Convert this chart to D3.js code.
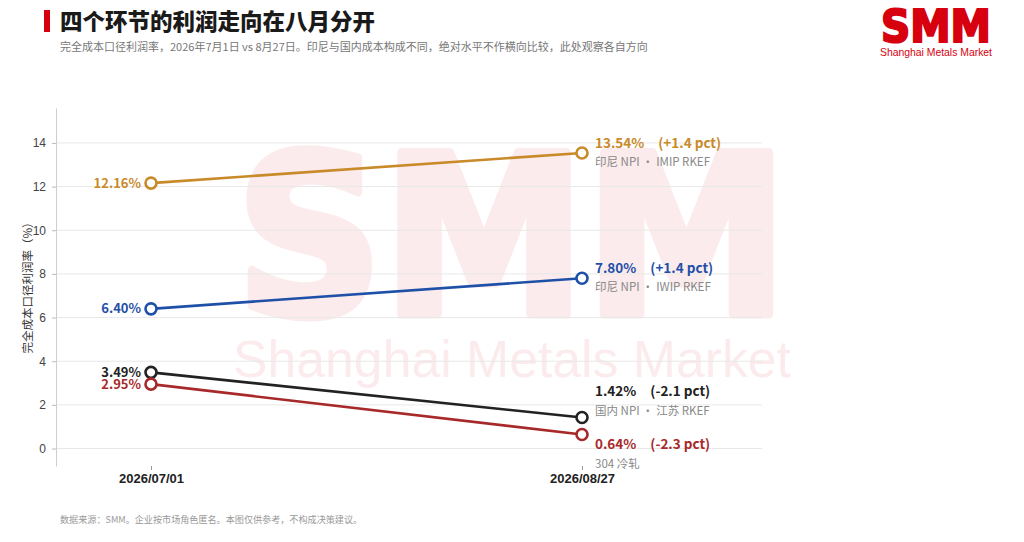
<!DOCTYPE html>
<html>
<head>
<meta charset="utf-8">
<script src="https://cdn.jsdelivr.net/npm/d3@7/dist/d3.min.js"></script>
<style>
  body { margin: 0; background: #fff; }
  svg { display: block; font-family: "Noto Sans CJK SC", "Noto Sans", sans-serif; }
  .grid line { stroke: #e8e8e8; stroke-width: 1; }
  .axis--y .domain { stroke: #cfcfcf; }
  .axis--y .tick line { stroke: #bbb; }
  .axis--y .tick text { fill: #444; font-size: 12px; }
  .axis--x .domain { display: none; }
  .axis--x .tick line { stroke: #999; }
  .axis--x .tick text { fill: #222; font-size: 13px; font-weight: 700; }
</style>
</head>
<body>
<svg id="chart" width="1024" height="542"></svg>
<script>
// data
var dates = ["2026-07-01", "2026-08-27"];
var dateLabels = ["2026/07/01", "2026/08/27"];
var seriesNames = ["印尼 NPI · IMIP RKEF", "印尼 NPI · IWIP RKEF", "国内 NPI · 江苏 RKEF", "304 冷轧"];
var startValues = [12.16, 6.40, 3.49, 2.95];
var endValues = [13.54, 7.80, 1.42, 0.64];
var changeLabels = ["+1.4 pct", "+1.4 pct", "-2.1 pct", "-2.3 pct"];
var yTicks = [0, 2, 4, 6, 8, 10, 12, 14];

var colors = ["#c98a2a", "#1f50a8", "#222222", "#a8292a"];

var svg = d3.select("#chart")
    , margin = {top: 108, right: 262, bottom: 76, left: 56}
    , width = +svg.attr("width") - margin.left - margin.right
    , height = +svg.attr("height") - margin.top - margin.bottom
    ;

var parse = d3.timeParse("%Y-%m-%d");
var xDates = dates.map(parse);

var x = d3.scaleTime()
    .domain(xDates)
    .range([95, 526]);

var y = d3.scaleLinear()
    .domain([-0.8, 15.6])
    .range([height, 0]);

// header
svg.append("rect")
    .attr("x", 44).attr("y", 10)
    .attr("width", 6).attr("height", 22)
    .attr("fill", "#d7000f");

svg.append("text")
    .attr("x", 60).attr("y", 30)
    .attr("font-size", 22.5).attr("font-weight", 900)
    .attr("fill", "#1a1a1a")
    .text("四个环节的利润走向在八月分开");

svg.append("text")
    .attr("x", 60).attr("y", 51)
    .attr("font-size", 11).attr("fill", "#777")
    .text("完全成本口径利润率，2026年7月1日 vs 8月27日。印尼与国内成本构成不同，绝对水平不作横向比较，此处观察各自方向");

// logo
var logo = svg.append("g").attr("transform", "translate(936,0)");
logo.append("text")
    .attr("x", 0).attr("y", 42)
    .attr("text-anchor", "middle")
    .attr("font-family", "'DejaVu Sans', sans-serif")
    .attr("font-size", 44).attr("font-weight", 700)
    .attr("textLength", 110).attr("lengthAdjust", "spacingAndGlyphs")
    .attr("fill", "#d7000f")
    .attr("stroke", "#d7000f").attr("stroke-width", 2.2)
    .text("SMM");
logo.append("text")
    .attr("x", 0).attr("y", 56)
    .attr("text-anchor", "middle")
    .attr("font-family", "'Liberation Sans', Arial, sans-serif")
    .attr("font-size", 11)
    .attr("textLength", 112).attr("lengthAdjust", "spacingAndGlyphs")
    .attr("fill", "#d7000f")
    .text("Shanghai Metals Market");

// watermark
var wm = svg.append("g").attr("opacity", 0.075);
wm.append("text")
    .attr("x", 512).attr("y", 314)
    .attr("text-anchor", "middle")
    .attr("font-family", "'DejaVu Sans', sans-serif")
    .attr("font-size", 222).attr("font-weight", 700)
    .attr("textLength", 552).attr("lengthAdjust", "spacingAndGlyphs")
    .attr("fill", "#d7000f")
    .attr("stroke", "#d7000f").attr("stroke-width", 9)
    .attr("stroke-linejoin", "round")
    .text("SMM");
wm.append("text")
    .attr("x", 512).attr("y", 377)
    .attr("text-anchor", "middle")
    .attr("font-family", "'Liberation Sans', Arial, sans-serif")
    .attr("font-size", 52)
    .attr("textLength", 558).attr("lengthAdjust", "spacingAndGlyphs")
    .attr("fill", "#d7000f")
    .text("Shanghai Metals Market");

var g = svg.append("g")
    .attr("transform", "translate(" + margin.left + "," + margin.top + ")");

g.append("g")
    .attr("class", "grid")
    .selectAll("line")
    .data(yTicks)
    .enter().append("line")
    .attr("x1", 0).attr("x2", width)
    .attr("y1", function(d) { return y(d); })
    .attr("y2", function(d) { return y(d); });

g.append("g")
    .attr("class", "axis axis--y")
    .call(d3.axisLeft(y).tickValues(yTicks).tickSize(4).tickSizeOuter(0).tickPadding(6));

g.append("text")
    .attr("transform", "translate(-24," + (height / 2 - 2) + ") rotate(-90)")
    .attr("text-anchor", "middle")
    .attr("font-size", 11.5)
    .attr("fill", "#333")
    .text("完全成本口径利润率（%）");

g.append("g")
    .attr("class", "axis axis--x")
    .attr("transform", "translate(0," + height + ")")
    .call(d3.axisBottom(x)
        .tickValues(xDates)
        .tickSize(4)
        .tickPadding(4)
        .tickFormat(function(d, i) { return dateLabels[i]; }));

var series = seriesNames.map(function(name, i) {
    return {
        name: name,
        color: colors[i],
        change: changeLabels[i],
        values: [
            {date: xDates[0], v: startValues[i]},
            {date: xDates[1], v: endValues[i]}
        ]
    };
});

var line = d3.line()
    .x(function(d) { return x(d.date); })
    .y(function(d) { return y(d.v); });

var s = g.selectAll(".series")
    .data(series)
    .enter().append("g")
    .attr("class", "series");

s.append("path")
    .attr("fill", "none")
    .attr("stroke", function(d) { return d.color; })
    .attr("stroke-width", 2.6)
    .attr("d", function(d) { return line(d.values); });

s.selectAll("circle")
    .data(function(d) { return d.values.map(function(p) { return {p: p, color: d.color}; }); })
    .enter().append("circle")
    .attr("cx", function(d) { return x(d.p.date); })
    .attr("cy", function(d) { return y(d.p.v); })
    .attr("r", 5.5)
    .attr("fill", "#fff")
    .attr("stroke", function(d) { return d.color; })
    .attr("stroke-width", 2.6);

// start labels
s.append("text")
    .attr("x", x(xDates[0]) - 10)
    .attr("y", function(d) { return y(d.values[0].v); })
    .attr("dy", "0.35em")
    .attr("text-anchor", "end")
    .attr("font-size", 13).attr("font-weight", 700)
    .attr("fill", function(d) { return d.color; })
    .text(function(d) { return d.values[0].v.toFixed(2) + "%"; });

// end labels: default sits around the marker; close neighbours get pushed apart
var ends = series.map(function(d) { return y(d.values[1].v); });
s.each(function(d, i) {
    var cy = ends[i]
        , off = -10;
    if (i + 1 < ends.length && ends[i + 1] - cy < 30) off = -26;
    if (i > 0 && cy - ends[i - 1] < 30) off = 10;
    var t = d3.select(this).append("text")
        .attr("x", x(xDates[1]) + 13)
        .attr("y", cy + off)
        .attr("dy", "0.35em")
        .attr("font-size", 13.5).attr("font-weight", 700)
        .attr("fill", d.color);
    t.append("tspan")
        .text(d.values[1].v.toFixed(2) + "%");
    t.append("tspan")
        .attr("dx", 14)
        .text("(" + d.change + ")");
    d3.select(this).append("text")
        .attr("x", x(xDates[1]) + 13)
        .attr("y", cy + off + 19)
        .attr("dy", "0.35em")
        .attr("font-size", 11.5)
        .attr("fill", "#888")
        .text(d.name);
});

// footer
svg.append("text")
    .attr("x", 60).attr("y", 523)
    .attr("font-size", 9.1).attr("fill", "#999")
    .text("数据来源：SMM。企业按市场角色匿名。本图仅供参考，不构成决策建议。");
</script>
</body>
</html>
